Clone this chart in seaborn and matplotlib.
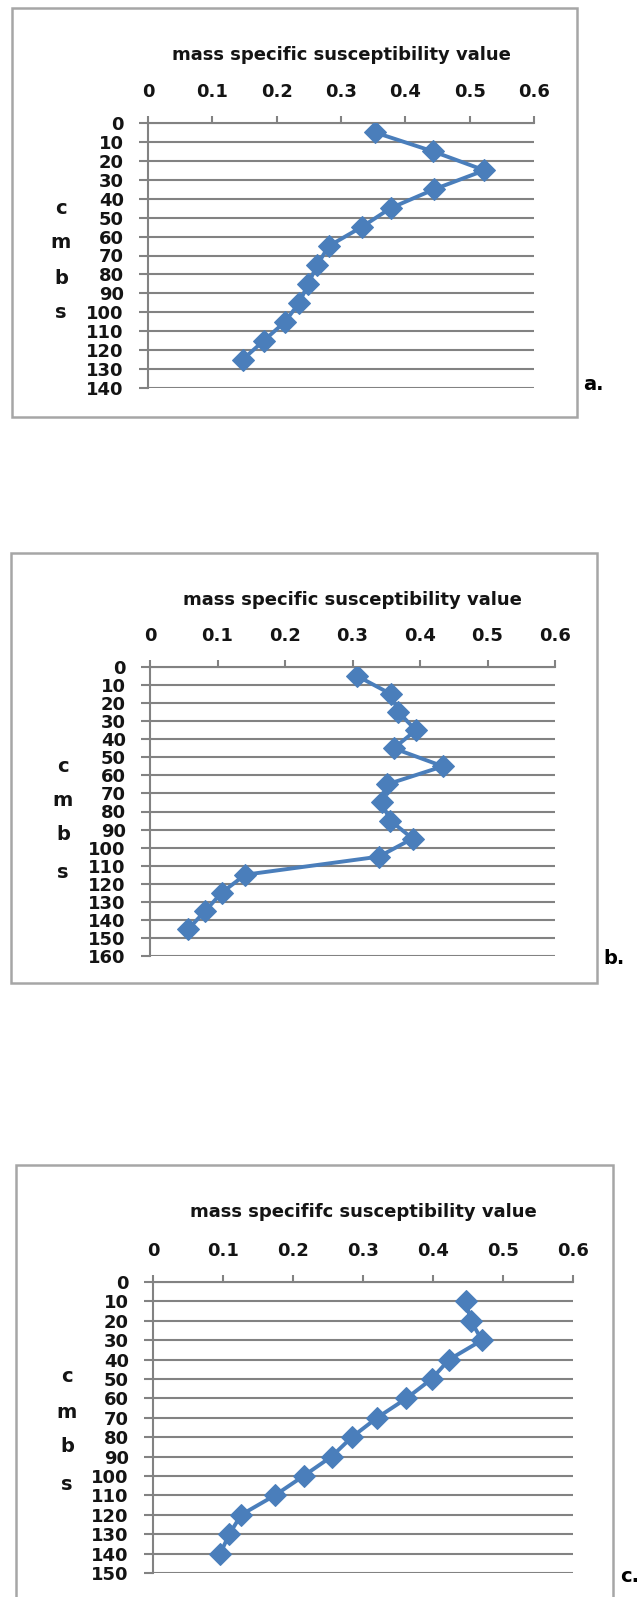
import matplotlib
matplotlib.use("Agg")
import matplotlib.pyplot as plt
import seaborn as sns
import numpy as np
import pandas as pd
from matplotlib.patches import Rectangle

sns.set_style("white")
plt.rcParams['font.family'] = ['DejaVu Sans']
plt.rcParams['font.weight'] = 'bold'

# ---------------- data ----------------
depth_a = [5, 15, 25, 35, 45, 55, 65, 75, 85, 95, 105, 115, 125]
value_a = [0.353, 0.443, 0.523, 0.445, 0.377, 0.332, 0.281, 0.263, 0.249, 0.235, 0.213, 0.180, 0.147]

depth_b = [5, 15, 25, 35, 45, 55, 65, 75, 85, 95, 105, 115, 125, 135, 145]
value_b = [0.307, 0.357, 0.368, 0.394, 0.361, 0.434, 0.351, 0.343, 0.356, 0.389, 0.339, 0.141, 0.106, 0.082, 0.057]

depth_c = [10, 20, 30, 40, 50, 60, 70, 80, 90, 100, 110, 120, 130, 140]
value_c = [0.447, 0.454, 0.470, 0.423, 0.398, 0.362, 0.320, 0.284, 0.255, 0.215, 0.174, 0.126, 0.109, 0.096]

titles = ["mass specific susceptibility value",
          "mass specific susceptibility value",
          "mass specififc susceptibility value"]
panel_tags = ["a.", "b.", "c."]
ylabel_letters = ["c", "m", "b", "s"]
x_ticks = [0, 0.1, 0.2, 0.3, 0.4, 0.5, 0.6]
x_ticklabels = ["0", "0.1", "0.2", "0.3", "0.4", "0.5", "0.6"]
y_max = [140, 160, 150]

# ---------------- layout (pixels) ----------------
W, H = 637, 1597
DPI = 100
fig = plt.figure(figsize=(W / DPI, H / DPI), dpi=DPI)
fig.patch.set_facecolor("white")

def fx(px):
    return px / W

def fy(py):
    return 1 - py / H

# axes boxes: left, right, top, bottom in px
boxes = [(148, 534, 123, 388), (150, 555, 667, 956), (153, 573, 1282, 1573)]
frames = [(12, 8, 577, 417), (11, 553, 597, 983), (16, 1165, 613, 1610)]
title_y = [55, 600, 1212]
ylab_x = [61, 63, 67]
ylab_y = [[208, 243, 278, 313], [767, 800, 835, 872], [1377, 1413, 1447, 1485]]
tag_pos = [(583, 385), (603, 959), (620, 1577)]

blue = "#4A7EBB"
grid_c = "#828282"
txt_c = "#141414"
FS = 13

datasets = [(depth_a, value_a), (depth_b, value_b), (depth_c, value_c)]

for i, ((d, v), (l, r, t, b)) in enumerate(zip(datasets, boxes)):
    # frame
    fl, ft, fr, fb = frames[i]
    fig.patches.append(Rectangle((fx(fl), fy(fb)), fx(fr - fl), (fb - ft) / H,
                                 transform=fig.transFigure, fill=False,
                                 edgecolor="#A6A6A6", linewidth=1.8, zorder=0))
    ax = fig.add_axes([fx(l), fy(b), fx(r - l), (b - t) / H])
    df = pd.DataFrame({"depth": d, "value": v})
    sns.lineplot(data=df, x="value", y="depth", sort=False, ax=ax,
                 color=blue, linewidth=2.8, marker="D", markersize=11,
                 markeredgecolor=blue, markerfacecolor=blue, zorder=3)
    ax.set_xlim(0, 0.6)
    ax.set_ylim(y_max[i], 0)
    ax.set_xticks(x_ticks)
    ax.set_xticklabels(x_ticklabels)
    ax.set_yticks(np.arange(0, y_max[i] + 1, 10))
    ax.xaxis.tick_top()
    ax.set_xlabel("")
    ax.set_ylabel("")
    for s in ["right", "bottom"]:
        ax.spines[s].set_visible(False)
    for s in ["top", "left"]:
        ax.spines[s].set_color(grid_c)
        ax.spines[s].set_linewidth(1.5)
    ax.grid(axis="y", color=grid_c, linewidth=1.5)
    ax.grid(axis="x", visible=False)
    ax.set_axisbelow(True)
    ax.tick_params(axis="x", which="both", top=True, bottom=False, direction="out",
                   length=5, width=1.5, color=grid_c, pad=11, labelsize=FS, labelcolor=txt_c)
    ax.tick_params(axis="y", left=True, direction="out", length=6.5, width=1.5,
                   color=grid_c, pad=11, labelsize=FS, labelcolor=txt_c)
    for lab in ax.get_xticklabels() + ax.get_yticklabels():
        lab.set_fontweight("bold")
    ax.set_facecolor("white")

    fig.text(fx((l + r) / 2), fy(title_y[i]), titles[i], ha="center", va="center",
             fontsize=FS, fontweight="bold", color=txt_c)
    for letter, yy in zip(ylabel_letters, ylab_y[i]):
        fig.text(fx(ylab_x[i]), fy(yy), letter, ha="center", va="center",
                 fontsize=14, fontweight="bold", color=txt_c)
    fig.text(fx(tag_pos[i][0]), fy(tag_pos[i][1]), panel_tags[i], ha="left", va="center",
             fontsize=14, fontweight="heavy", color="black")

fig.savefig("out.png", dpi=DPI, facecolor="white")
